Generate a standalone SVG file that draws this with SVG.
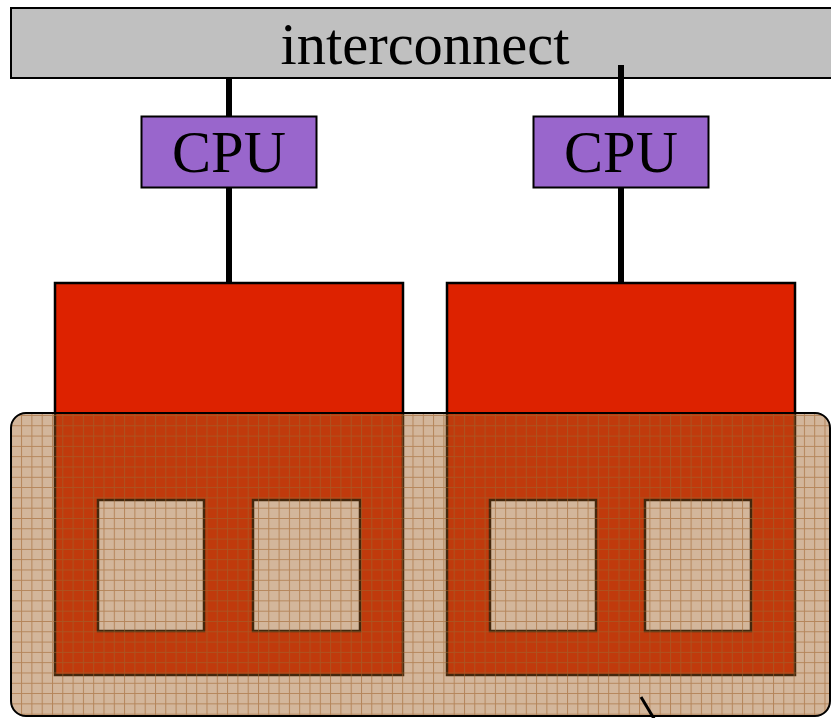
<svg xmlns="http://www.w3.org/2000/svg" width="831" height="718" viewBox="0 0 831 718">
  <style>
    .lbl { font-family: "Liberation Serif", "Times New Roman", serif; font-size: 58.5px; fill: #000; text-anchor: middle; }
    .box { stroke: #000; stroke-width: 2; }
    .wire { stroke: #000; stroke-width: 6; fill: none; }
    .mem { fill: #DD2200; stroke: #000; stroke-width: 2.5; fill-rule: evenodd; }
  </style>
  <defs>
    <pattern id="grid" x="0.5" y="3" width="10.3" height="10.3" patternUnits="userSpaceOnUse">
      <path d="M0 0.5H10.3M0.5 0V10.3" stroke="#A0642E" stroke-width="1" fill="none"/>
    </pattern>
  </defs>
  <rect width="831" height="718" fill="#fff"/>

  <g id="interconnect">
    <rect class="box" x="11" y="8" width="830" height="70" fill="#C0C0C0"/>
    <text class="lbl" x="425" y="64">interconnect</text>
  </g>

  <g id="connectors">
    <line class="wire" x1="229" y1="78" x2="229" y2="283"/>
    <line class="wire" x1="621" y1="65" x2="621" y2="283"/>
  </g>

  <g id="cpu1">
    <rect class="box" x="141.5" y="116.5" width="175" height="71" fill="#9966CC"/>
    <text class="lbl" x="229" y="172">CPU</text>
  </g>
  <g id="cpu2">
    <rect class="box" x="533.5" y="116.5" width="175" height="71" fill="#9966CC"/>
    <text class="lbl" x="621" y="172">CPU</text>
  </g>

  <g id="memory1">
    <path class="mem" d="M55 283H403V675H55Z M98 500V631H204V500Z M253 500V631H360V500Z"/>
  </g>
  <g id="memory2">
    <path class="mem" d="M447 283H795V675H447Z M490 500V631H596V500Z M645 500V631H751V500Z"/>
  </g>

  <g id="package">
    <rect x="11" y="413" width="819" height="303" rx="15" ry="15" fill="#9B591B" opacity="0.44"/>
    <rect x="11" y="413" width="819" height="303" rx="15" ry="15" fill="url(#grid)" opacity="0.6"/>
    <rect x="11" y="413" width="819" height="303" rx="15" ry="15" fill="none" stroke="#000" stroke-width="2"/>
  </g>

  <g id="pointer">
    <line x1="641" y1="697" x2="656" y2="722" stroke="#000" stroke-width="3"/>
  </g>
</svg>
